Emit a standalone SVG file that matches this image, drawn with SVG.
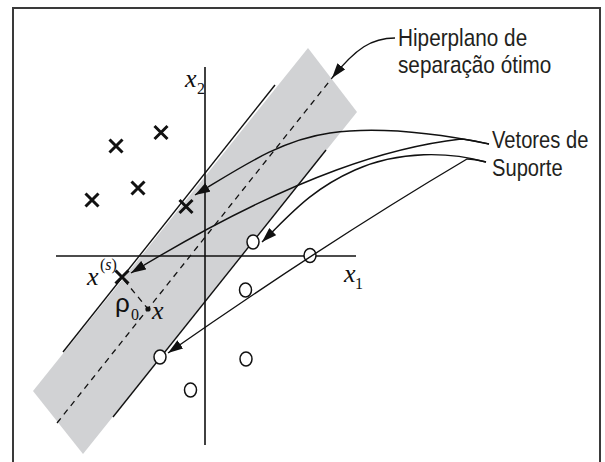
<svg xmlns="http://www.w3.org/2000/svg" width="605" height="462" viewBox="0 0 605 462">
<style>
.frame{fill:none;stroke:#3a3a3a;stroke-width:2}
.band{fill:#d1d2d4;stroke:none}
.edge{stroke:#111;stroke-width:1.4;fill:none}
.dash{stroke:#111;stroke-width:1.3;fill:none;stroke-dasharray:6 5}
.axis{stroke:#111;stroke-width:1.6;fill:none}
.cross{stroke:#111;stroke-width:3;fill:none}
.circ{fill:#fff;stroke:#111;stroke-width:1.5}
.conn{stroke:#111;stroke-width:1.4;fill:none}
.lbl{font-family:"Liberation Sans",Arial,sans-serif;font-size:24px;fill:#231f20}
.it{font-family:"Liberation Serif","Times New Roman",serif;font-style:italic;font-size:26px;fill:#111}
.sub{font-family:"Liberation Serif","Times New Roman",serif;font-size:16px;fill:#111}
.rho{font-family:"Liberation Sans",Arial,sans-serif;font-size:26px;fill:#111}
</style>
<defs>
<marker id="ah" viewBox="0 0 15 10" refX="15" refY="5" markerWidth="15" markerHeight="10" markerUnits="userSpaceOnUse" orient="auto"><path d="M0,0 L15,5 L0,10 z" fill="#111"/></marker>
</defs>
<path class="frame" d="M13,470 V8 H600 V470"/>
<g id="margin-band">
<polygon class="band" points="33,391 308,48 357,112 83,454"/>
<line class="edge" x1="63" y1="352" x2="275" y2="85"/>
<line class="edge" x1="113" y1="417" x2="326" y2="150"/>
<line class="dash" x1="57" y1="423" x2="332" y2="78"/>
</g>
<g id="axes">
<line class="axis" x1="56" y1="256" x2="356" y2="256"/>
<line class="axis" x1="205" y1="67" x2="205" y2="445"/>
<text class="it" x="185" y="87">x</text><text class="sub" x="197" y="94">2</text>
<text class="it" x="344" y="282">x</text><text class="sub" x="355" y="289">1</text>
</g>
<g id="class-x">
<g id="x1"><path class="cross" d="M154.5,126 l13,13 M167.5,126 l-13,13"/></g>
<g id="x2"><path class="cross" d="M109.5,139.5 l13,13 M122.5,139.5 l-13,13"/></g>
<g id="x3"><path class="cross" d="M131.5,181.5 l13,13 M144.5,181.5 l-13,13"/></g>
<g id="x4"><path class="cross" d="M85.5,193.5 l13,13 M98.5,193.5 l-13,13"/></g>
<g id="sv-x1"><path class="cross" d="M179.5,200 l13,13 M192.5,200 l-13,13"/></g>
<g id="sv-xs"><path class="cross" d="M115.5,270.5 l13,13 M128.5,270.5 l-13,13"/>
<text class="it" x="87" y="285">x</text><text class="sub" x="100" y="270" font-size="17">(<tspan font-style="italic">s</tspan>)</text></g>
</g>
<g id="point-x">
<line class="dash" x1="124" y1="280" x2="148" y2="309" stroke-dasharray="4 3"/>
<circle cx="148" cy="309" r="2.6" fill="#111"/>
<text class="it" x="152" y="319">x</text>
<text class="rho" x="115" y="312">ρ</text><text class="sub" x="131" y="320" font-size="17">0</text>
</g>
<g id="class-o">
<g id="sv-o1"><ellipse class="circ" cx="253" cy="242" rx="6" ry="7"/></g>
<g id="o2"><ellipse class="circ" cx="310" cy="255.5" rx="6" ry="7"/></g>
<g id="o3"><ellipse class="circ" cx="245.5" cy="290" rx="6" ry="7"/></g>
<g id="sv-o2"><ellipse class="circ" cx="160" cy="357" rx="6" ry="7"/></g>
<g id="o5"><ellipse class="circ" cx="246" cy="359" rx="6" ry="7"/></g>
<g id="o6"><ellipse class="circ" cx="190.5" cy="390" rx="6" ry="7"/></g>
</g>
<g id="connectors">
<path class="conn" d="M395,38 C372,38 356,48 332,78" marker-end="url(#ah)"/>
<path class="conn" d="M489,144 C440,134 380,126 330,133 S240,168 195,195" marker-end="url(#ah)"/>
<path class="conn" d="M489,144 C470,140 466,139 461,139 C400,146 300,170 131,273" marker-end="url(#ah)"/>
<path class="conn" d="M486,162 C450,152 400,150 355,170 S290,215 262,242" marker-end="url(#ah)"/>
<path class="conn" d="M486,162 C478,160 472,159 467,159 Q330,240 168,353" marker-end="url(#ah)"/>
</g>
<g id="labels">
<text class="lbl" transform="translate(398,46) scale(0.865,1)">Hiperplano de</text>
<text class="lbl" transform="translate(398,73) scale(0.865,1)">separação ótimo</text>
<text class="lbl" transform="translate(492,148) scale(0.84,1)">Vetores de</text>
<text class="lbl" transform="translate(492,176) scale(0.84,1)">Suporte</text>
</g>
</svg>
